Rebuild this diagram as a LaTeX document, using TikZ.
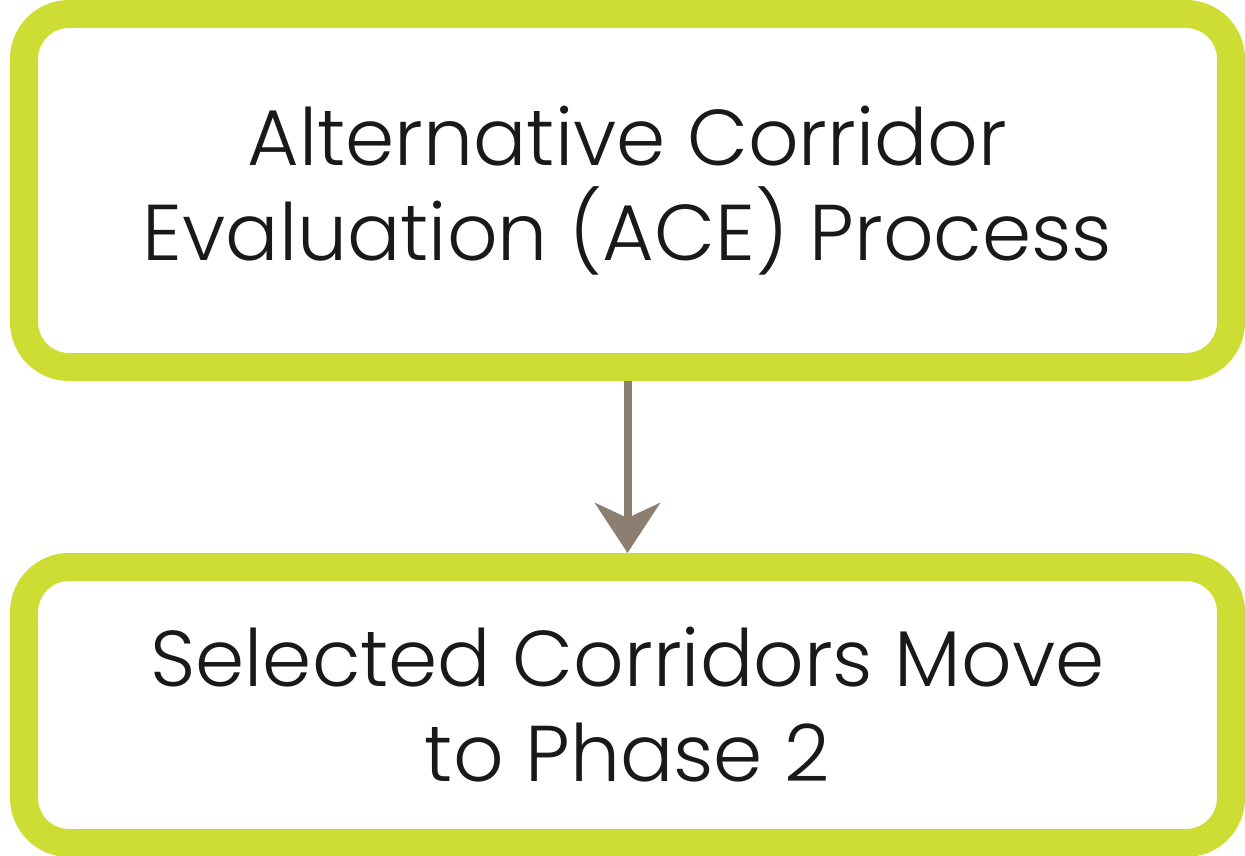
\documentclass[tikz,border=0pt]{standalone}
\usepackage{fontspec}
\setmainfont{Poppins}[UprightFont=* Light]
\usetikzlibrary{arrows.meta}
\definecolor{limegreen}{RGB}{206,221,51}
\definecolor{arrowbrown}{RGB}{140,127,114}
\begin{document}
\begin{tikzpicture}[main/.style = {draw=limegreen, line width=0.28cm, rectangle, rounded corners=0.45cm, minimum width=12.07cm, align=center, font=\fontsize{22.5}{27}\selectfont, text=black!90}]
            \useasboundingbox (0,0) rectangle (12.45,-8.55);
            \node[main, minimum height=3.53cm] (1) at (6.275,-1.905) {Alternative Corridor\\Evaluation (ACE) Process};
            \node[main, minimum height=2.76cm] (2) [below of=1, node distance=5.145cm] {Selected Corridors Move\\to Phase 2};
            \draw[arrowbrown, line width=0.08cm, -{Stealth[length=0.5cm, width=0.65cm, inset=0.15cm]}] (1) -- (2);
        \end{tikzpicture}
\end{document}
